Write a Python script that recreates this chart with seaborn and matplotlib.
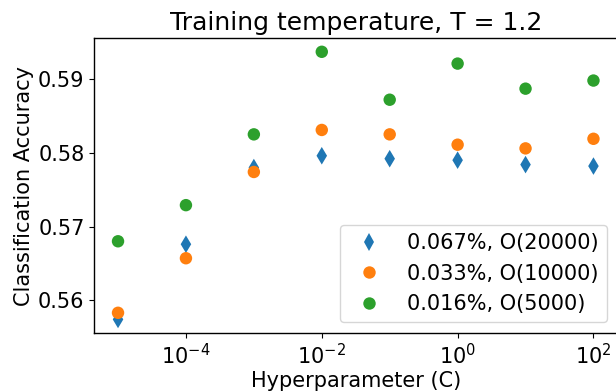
import numpy as np
import pandas as pd
import matplotlib
matplotlib.use("Agg")
import matplotlib.pyplot as plt
import matplotlib.ticker as mticker
import seaborn as sns

C_values = [1e-5, 1e-4, 1e-3, 1e-2, 1e-1, 1e0, 1e1, 1e2]
acc_067 = [0.5574, 0.5676, 0.5780, 0.5796, 0.5792, 0.5790, 0.5784, 0.5782]
acc_033 = [0.5583, 0.5657, 0.5774, 0.5831, 0.5825, 0.5811, 0.5806, 0.5819]
acc_016 = [0.5680, 0.5729, 0.5825, 0.5937, 0.5872, 0.5921, 0.5887, 0.5898]
labels = ["0.067%, O(20000)", "0.033%, O(10000)", "0.016%, O(5000)"]
x_ticks = [1e-4, 1e-2, 1e0, 1e2]
y_ticks = [0.56, 0.57, 0.58, 0.59]

df = pd.DataFrame({
    "C": C_values * 3,
    "acc": acc_067 + acc_033 + acc_016,
    "series": [labels[0]] * 8 + [labels[1]] * 8 + [labels[2]] * 8,
})

sns.set_style("ticks", rc={"text.color": "black", "axes.labelcolor": "black",
                           "xtick.color": "black", "ytick.color": "black",
                           "axes.edgecolor": "black"})
plt.rcParams['font.family'] = ['DejaVu Sans']
fig = plt.figure(figsize=(6.16, 3.92), dpi=100)
ax = fig.add_axes([0.153, 0.151, 0.849, 0.751])

palette = {labels[0]: "#1f77b4", labels[1]: "#ff7f0e", labels[2]: "#2ca02c"}
markers = {labels[0]: "d", labels[1]: "o", labels[2]: "o"}
sns.scatterplot(data=df, x="C", y="acc", hue="series", style="series",
                palette=palette, markers=markers, s=80, linewidth=0, ax=ax)
ax.set_xscale("log")
ax.set_xticks(x_ticks)
ax.xaxis.set_minor_locator(mticker.NullLocator())
ax.set_yticks(y_ticks)
ax.tick_params(labelsize=15, length=3.5, width=0.8)
ax.set_xlabel("Hyperparameter (C)", fontsize=15, labelpad=2)
ax.set_ylabel("Classification Accuracy", fontsize=15, labelpad=3)
ax.set_title("Training temperature, T = 1.2", fontsize=18)
for sp in ax.spines.values():
    sp.set_visible(True)
    sp.set_color("black")
    sp.set_linewidth(1)
ax.legend(loc="lower right", fontsize=15, markerscale=1.0, handletextpad=0.8)
fig.savefig("out.png", dpi=100)
